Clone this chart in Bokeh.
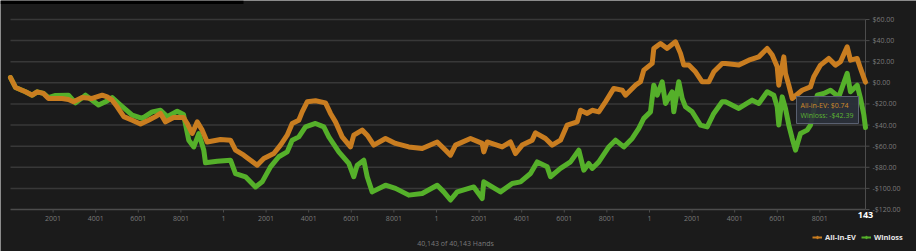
from bokeh.plotting import figure
from bokeh.models import Range1d, Legend, LegendItem, BoxAnnotation, ColumnDataSource
from bokeh.core.properties import value
from bokeh.embed import file_html
from bokeh.resources import INLINE

# ---------------- data ----------------
total_hands = 40143

ev_hands = [0, 235, 704, 1019, 1254, 1549, 1784, 2427, 2723, 2958, 3366, 3836, 4305, 4540, 4775,
            5010, 5319, 5714, 6104, 6479, 6808, 7043, 7277, 7653, 8122, 8296, 8531, 8766, 9000,
            9235, 9860, 10329, 10564, 10953, 11268, 11583, 11892, 12362, 12677, 12991, 13226,
            13536, 13695, 13930, 14320, 14789, 15024, 15259, 15573, 15963, 16118, 16512, 16747,
            17057, 17606, 18076, 18700, 19329, 20034, 20343, 20658, 20893, 21597, 22146, 22222,
            22381, 23085, 23475, 23710, 24024, 24494, 24649, 25118, 25433, 25823, 26137, 26607,
            26762, 27076, 27311, 27621, 27935, 28325, 28719, 28874, 29344, 29579, 29734, 30128,
            30203, 30518, 30832, 31222, 31457, 31612, 31847, 32161, 32475, 32785, 33020, 33414,
            33569, 34194, 34664, 35133, 35527, 35762, 35997, 36072, 36307, 36386, 36541, 36701,
            37170, 37560, 37715, 38030, 38419, 38734, 38969, 39283, 39438, 39753, 39908, 40063,
            40142]
ev_values = [5.0, -4.4, -8.5, -11.7, -8.5, -10.0, -14.8, -14.8, -15.8, -18.0, -13.8, -14.8, -11.7,
             -13.3, -16.4, -22.7, -32.0, -35.4, -39.0, -35.4, -32.0, -29.0, -37.0, -32.8, -32.8,
             -38.5, -48.0, -37.0, -44.8, -56.0, -53.7, -54.3, -63.8, -68.5, -73.3, -78.0, -71.7,
             -67.0, -59.0, -49.6, -38.5, -35.4, -27.5, -18.0, -17.0, -19.0, -29.0, -37.0, -51.2,
             -60.7, -49.6, -44.8, -49.6, -59.0, -52.7, -57.4, -60.7, -62.2, -56.0, -62.2, -68.5,
             -59.0, -52.7, -57.4, -65.4, -56.0, -60.7, -56.0, -67.0, -59.0, -54.3, -47.4, -52.7,
             -59.0, -54.3, -40.0, -37.0, -26.0, -29.0, -26.0, -27.5, -18.0, -5.3, -7.0, -11.7,
             -2.2, 1.0, 12.0, 18.4, 32.6, 37.3, 32.6, 38.9, 27.9, 16.8, 16.8, 10.4, 1.0, 1.0, 10.4,
             18.4, 18.4, 16.8, 21.5, 24.6, 32.6, 26.3, 15.2, -2.2, 24.6, 8.9, -2.2, -14.8, -7.0,
             -3.8, 5.7, 16.8, 23.1, 16.8, 20.0, 34.1, 21.5, 23.1, 13.6, 5.0, 0.74]

wl_hands = [0, 235, 704, 1019, 1254, 1549, 1784, 2113, 2723, 3052, 3521, 4132, 4460, 4775, 5165,
            5714, 6183, 6653, 7043, 7357, 7826, 8122, 8371, 8606, 8841, 9075, 9155, 9705, 10329,
            10564, 11033, 11503, 11817, 12207, 12597, 12991, 13226, 13536, 13850, 14320, 14710,
            14945, 15414, 15884, 16118, 16278, 16588, 16747, 16982, 17606, 18076, 18700, 19329,
            20034, 20343, 20658, 20973, 21752, 22146, 22222, 23006, 23555, 23945, 24414, 24729,
            25198, 25353, 25823, 26292, 26682, 26917, 27151, 27311, 27621, 28090, 28405, 28794,
            29189, 29499, 29734, 30048, 30203, 30363, 30597, 30752, 31067, 31142, 31377, 31537,
            31691, 32006, 32396, 32710, 33020, 33414, 33569, 34194, 34823, 35133, 35527, 35837,
            35997, 36072, 36232, 36386, 36541, 36701, 36856, 37091, 37405, 37560, 37875, 38185,
            38499, 38889, 39283, 39438, 39753, 39908, 40063, 40142]
wl_values = [5.0, -4.4, -8.5, -11.7, -8.5, -10.0, -14.0, -12.0, -11.7, -19.0, -11.7, -21.0, -18.0,
             -14.0, -21.0, -30.6, -33.7, -27.5, -26.0, -32.0, -27.0, -30.0, -54.3, -60.7, -48.0,
             -63.8, -75.8, -74.2, -73.3, -85.9, -89.0, -98.6, -93.8, -79.6, -70.0, -65.4, -54.3,
             -51.2, -41.7, -38.5, -41.7, -51.2, -65.4, -76.4, -89.0, -78.0, -73.3, -89.0, -103.3,
             -97.0, -100.0, -106.4, -104.8, -97.0, -103.3, -111.0, -103.3, -98.6, -109.6, -93.8,
             -103.3, -95.4, -93.8, -85.9, -74.9, -79.6, -89.0, -81.1, -74.9, -63.8, -82.7, -76.4,
             -81.1, -74.9, -60.7, -54.3, -60.7, -52.7, -43.2, -33.7, -27.5, -2.2, -11.7, 1.0,
             -19.5, -8.5, -27.5, 1.0, -14.8, -22.7, -27.5, -40.0, -41.7, -29.0, -18.0, -18.0,
             -24.3, -16.4, -19.5, -8.5, -11.7, -22.7, -40.0, -13.3, -24.3, -40.0, -52.7, -63.8,
             -48.0, -44.8, -40.0, -11.7, -10.0, -7.0, -13.3, 8.9, -8.5, -2.2, -14.8, -30.0, -42.39]

x_tick_values = [2000, 4000, 6000, 8000, 10000, 12000, 14000, 16000, 18000, 20000, 22000, 24000,
                 26000, 28000, 30000, 32000, 34000, 36000, 38000]
x_tick_labels = ["2001", "4001", "6001", "8001", "1", "2001", "4001", "6001", "8001", "1",
                 "2001", "4001", "6001", "8001", "1", "2001", "4001", "6001", "8001"]
y_tick_values = [-120, -100, -80, -60, -40, -20, 0, 20, 40, 60]
y_tick_labels = ["-$120.00", "-$100.00", "-$80.00", "-$60.00", "-$40.00", "-$20.00", "$0.00",
                 "$20.00", "$40.00", "$60.00"]
series_names = ["All-in-EV", "Winloss"]
hover_label = "143"

# ---------------- layout (pixels) ----------------
W, H = 916, 251
PX_L, PX_R, PX_T, PX_B = 10, 865, 19, 209
y_top, y_bot = y_tick_values[-1], y_tick_values[0]
hx = total_hands / (PX_R - PX_L)          # hands per pixel
vy = (y_top - y_bot) / (PX_B - PX_T)      # dollars per pixel


def X(px):
    return (px - PX_L) * hx


def Y(py):
    return y_top - (py - PX_T) * vy


# ---------------- style ----------------
BG = "#1b1b1b"
ORANGE = "#c97d20"
GREEN = "#55b02a"
GRID = "#383838"
AXIS = "#4c4c4c"
LABEL = "#7a7a7a"
FONT = value("Open Sans")

p = figure(width=W, height=H, output_backend="svg", toolbar_location=None,
           x_range=Range1d(X(0), X(W)), y_range=Range1d(Y(H), Y(0)),
           x_axis_location=None, y_axis_location=None,
           min_border=0, min_border_left=0, min_border_right=0, min_border_top=0,
           min_border_bottom=0, background_fill_color=BG, border_fill_color=BG,
           outline_line_color=None)
p.grid.visible = False

# black strip at top-left (page header edge)
p.add_layout(BoxAnnotation(left=X(0), right=X(243), top=Y(0), bottom=Y(3.5),
                           fill_color="#000000", fill_alpha=1, line_color=None))

# horizontal grid lines
grid_vals = y_tick_values[1:]
p.segment(x0=[0] * len(grid_vals), x1=[total_hands] * len(grid_vals), y0=grid_vals, y1=grid_vals,
          line_color=GRID, line_width=1.5)
# x axis line + ticks
p.segment(x0=[0], x1=[total_hands], y0=[y_bot], y1=[y_bot], line_color=AXIS, line_width=1.5)
p.segment(x0=x_tick_values, x1=x_tick_values, y0=[y_bot] * len(x_tick_values),
          y1=[Y(PX_B + 3)] * len(x_tick_values), line_color=AXIS, line_width=1)
# y axis line (right) + ticks
p.segment(x0=[total_hands], x1=[total_hands], y0=[y_bot], y1=[y_top], line_color=AXIS, line_width=1)
p.segment(x0=[total_hands] * len(y_tick_values), x1=[X(PX_R + 4)] * len(y_tick_values),
          y0=y_tick_values, y1=y_tick_values, line_color=AXIS, line_width=1)

# tick labels
p.text(x=x_tick_values, y=[Y(PX_B + 9)] * len(x_tick_values), text=x_tick_labels,
       text_align="center", text_baseline="middle", text_color=LABEL, text_font=FONT,
       text_font_size="7px")
p.text(x=[X(PX_R + 7)] * len(y_tick_values), y=y_tick_values, text=y_tick_labels,
       text_align="left", text_baseline="middle", text_color=LABEL, text_font=FONT,
       text_font_size="7px")

# series
p.line(wl_hands, wl_values, line_color=GREEN, line_width=5, line_join="round", line_cap="round")
p.line(ev_hands, ev_values, line_color=ORANGE, line_width=5, line_join="round", line_cap="round")

# hover label on x axis
p.text(x=[ev_hands[-1]], y=[Y(PX_B + 5.5)], text=[hover_label], text_align="center",
       text_baseline="middle", text_color="#ffffff", text_font=FONT, text_font_style="bold",
       text_font_size="9px")

# tooltip
p.quad(left=[X(796)], right=[X(858)], top=[Y(96)], bottom=[Y(123)],
       fill_color="#2b303a", fill_alpha=0.93, line_color="#596070", line_width=1)
p.text(x=[X(800)], y=[Y(104.5)], text=[f"{series_names[0]}: ${ev_values[-1]:.2f}"],
       text_baseline="middle", text_color="#d08a2a", text_font=FONT, text_font_size="7px")
p.text(x=[X(800)], y=[Y(114.5)], text=[f"{series_names[1]}: -${abs(wl_values[-1]):.2f}"],
       text_baseline="middle", text_color="#5cb531", text_font=FONT, text_font_size="7px")

# footer
p.text(x=[X(455)], y=[Y(243)], text=[f"{total_hands:,} of {total_hands:,} Hands"],
       text_align="center", text_baseline="middle", text_color=LABEL, text_font=FONT,
       text_font_size="7px")

# legend with placeholder glyphs (single NaN point, never drawn on the chart)
nan = float("nan")
dummy1 = ColumnDataSource(data=dict(x=[nan], y=[nan]))
dummy2 = ColumnDataSource(data=dict(x=[nan], y=[nan]))
l1 = p.line("x", "y", source=dummy1, line_color=ORANGE, line_width=2)
m1 = p.scatter("x", "y", source=dummy1, marker="diamond", size=7, fill_color=ORANGE, line_color=ORANGE)
l2 = p.line("x", "y", source=dummy2, line_color=GREEN, line_width=2)
m2 = p.scatter("x", "y", source=dummy2, marker="diamond", size=7, fill_color=GREEN, line_color=GREEN)
legend = Legend(items=[LegendItem(label=series_names[0], renderers=[l1, m1]),
                       LegendItem(label=series_names[1], renderers=[l2, m2])],
                orientation="horizontal", location=(812, 9),
                background_fill_alpha=0, border_line_color=None,
                label_text_color="#e6e6e6", label_text_font="Open Sans",
                label_text_font_style="bold", label_text_font_size="7.5px",
                glyph_width=10, glyph_height=8, label_height=10, label_standoff=3,
                spacing=5, padding=0, margin=0)
p.add_layout(legend)

open("out.html", "w").write(file_html(p, INLINE))
